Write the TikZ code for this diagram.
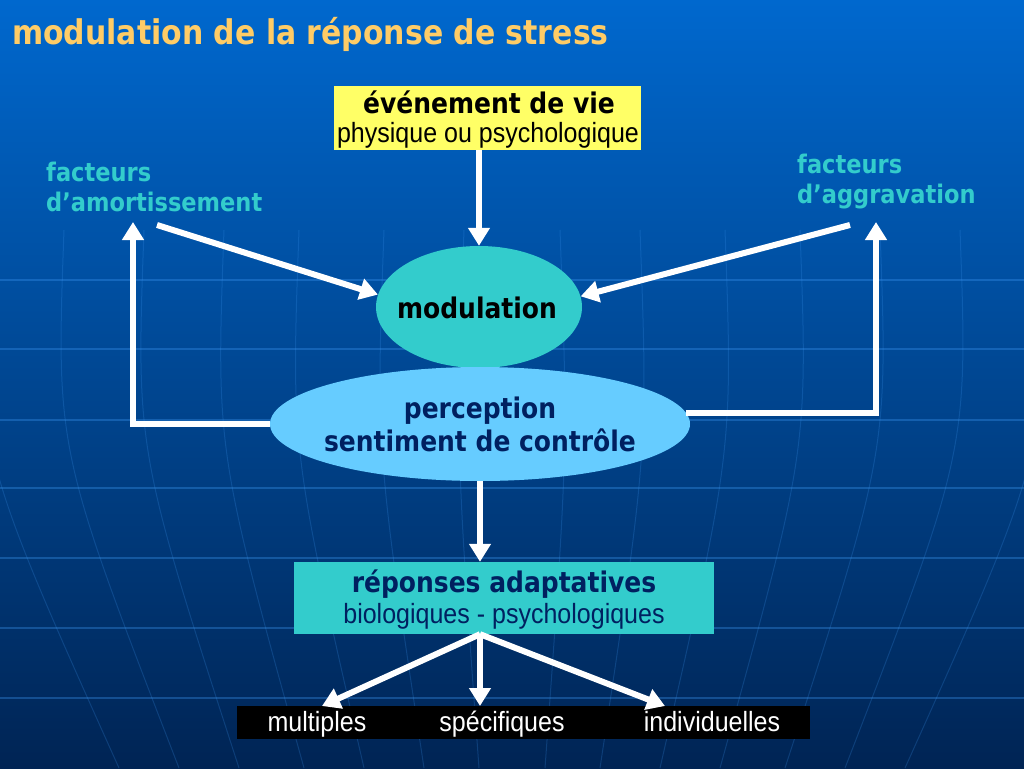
\documentclass[tikz,border=0pt]{standalone}
\usepackage{fontspec}
\setmainfont{DejaVu Sans}[FakeStretch=0.88]
\newfontfamily\nr{Liberation Sans}[FakeStretch=0.9]
\usetikzlibrary{arrows.meta,shapes.geometric,calc}
\definecolor{bgtop}{RGB}{0,104,206}
\definecolor{bgmid}{RGB}{0,80,164}
\definecolor{bgbot}{RGB}{0,36,84}
\definecolor{gridc}{RGB}{60,150,240}
\definecolor{titlec}{RGB}{255,204,102}
\definecolor{tealc}{RGB}{51,204,204}
\definecolor{lbluec}{RGB}{102,204,255}
\definecolor{yellc}{RGB}{255,255,102}
\definecolor{navyc}{RGB}{0,32,96}
\definecolor{factc}{RGB}{51,204,204}
\tikzset{
  arr/.style={draw=white, line width=6pt, -{Triangle[width=21pt,length=18pt]}},
  gridline/.style={draw=gridc, line width=1.2pt, opacity=0.35},
  meridian/.style={draw=gridc, line width=1pt, opacity=0.22},
  bxt/.style={font=\bfseries\fontsize{28.4}{30}\selectfont, anchor=base, inner sep=0pt},
  nxt/.style={font=\nr\fontsize{27.8}{30}\selectfont, anchor=base, inner sep=0pt},
  fact/.style={font=\bfseries\fontsize{25.6}{28}\selectfont, text=factc, anchor=base west, inner sep=0pt},
}
\begin{document}
\begin{tikzpicture}[x=1pt,y=-1pt]
\useasboundingbox (0,0) rectangle (1024,768);
\shade[top color=bgtop, middle color=bgmid, bottom color=bgbot] (0,0) rectangle (1024,768);
% globe grid
\foreach \yy in {280,349,420,488,558,628,698} \draw[gridline] (0,\yy) -- (1024,\yy);
\foreach \xt/\xb in {560/545,640/600,725/660,800/720,880/785,960/845,1040/905} {
  \draw[meridian] (\xt,230) .. controls (\xt+8,450) .. (\xb,768);
  \draw[meridian] (1024-\xt,230) .. controls (1024-\xt-8,450) .. (1024-\xb,768);
}
% title
\node[font=\bfseries\fontsize{34}{36}\selectfont, text=titlec, anchor=base west, inner sep=0pt] (title) at (12,45) {modulation de la réponse de stress};
% boxes
\node[fill=yellc, minimum width=307pt, minimum height=64pt, inner sep=0pt] (evt) at (487.5,118) {};
\node[bxt] (evt1) at (489,113) {événement de vie};
\node[nxt] (evt2) at (488,142) {physique ou psychologique};
\node[ellipse, fill=tealc, minimum width=206pt, minimum height=122pt, inner sep=0pt] (mod) at (479,307) {};
\node[bxt] (modt) at (477,318) {modulation};
\node[ellipse, fill=lbluec, minimum width=420pt, minimum height=114pt, inner sep=0pt] (per) at (480,424) {};
\node[bxt, text=navyc] (per1) at (480,418) {perception};
\node[bxt, text=navyc] (per2) at (480,451) {sentiment de contrôle};
\node[fill=tealc, minimum width=420pt, minimum height=72pt, inner sep=0pt] (resp) at (504,598) {};
\node[bxt, text=navyc] (resp1) at (504,592) {réponses adaptatives};
\node[nxt, text=navyc] (resp2) at (504,623) {biologiques - psychologiques};
\node[fill=black, minimum width=573pt, minimum height=33pt, inner sep=0pt] (bar) at (523.5,722.5) {};
\node[nxt, text=white] (mul) at (317,731) {multiples};
\node[nxt, text=white] (spe) at (502,731) {spécifiques};
\node[nxt, text=white] (ind) at (712,731) {individuelles};
% side texts
\node[fact] (fa1) at (46,181) {facteurs};
\node[fact] (fa2) at (46,211) {d’amortissement};
\node[fact] (fg1) at (797,173) {facteurs};
\node[fact] (fg2) at (797,203) {d’aggravation};
% coordinates
\coordinate (las) at (157,225);
\coordinate (ras) at (850,225);
\coordinate (ltop) at (133,222);
\coordinate (rtop) at (876,222);
\coordinate (t1) at (322,706);
\coordinate (t2) at (480,706);
\coordinate (t3) at (665,706);
% connectors
\draw[arr] (mod.north |- evt.south) -- (mod.north);
\draw[arr] (las) -- (mod.173);
\draw[arr] (ras) -- (mod.6);
\draw[arr] (per.west) -| (ltop);
\draw[arr] (per.3) -| (rtop);
\draw[arr] (per.south) -- (per.south |- resp.north);
\draw[arr] (resp.south -| per.south) -- (t1);
\draw[arr] (resp.south -| per.south) -- (t2);
\draw[arr] (resp.south -| per.south) -- (t3);
\end{tikzpicture}
\end{document}
